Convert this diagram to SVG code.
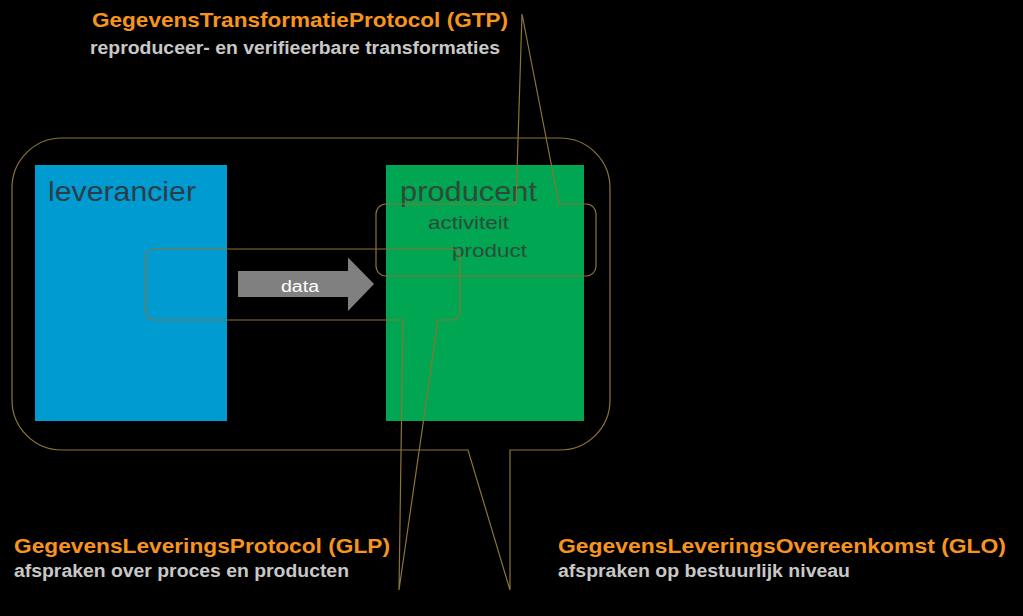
<svg xmlns="http://www.w3.org/2000/svg" width="1023" height="616" viewBox="0 0 1023 616">
  <style>
    .callout { fill: none; stroke: #8c7434; stroke-width: 1.2; stroke-linejoin: miter; }
    .title { font-family: "Liberation Sans", Arial, sans-serif; font-weight: bold; font-size: 20.5px; fill: #f7941e; }
    .sub { font-family: "Liberation Sans", Arial, sans-serif; font-weight: bold; font-size: 18px; fill: #c8c8c8; }
    .boxlabel { font-family: "Liberation Sans", Arial, sans-serif; }
  </style>
  <rect width="1023" height="616" fill="#000000"/>

  <g id="leverancier">
    <rect x="35" y="165" width="192" height="256" fill="#009bd0"/>
    <text class="boxlabel" x="48" y="200.5" font-size="28" fill="#2b3d48" textLength="148" lengthAdjust="spacingAndGlyphs">leverancier</text>
  </g>

  <g id="producent">
    <rect x="386" y="165" width="198" height="256" fill="#00a651"/>
    <text class="boxlabel" x="400" y="200.5" font-size="28" fill="#2f4a3a" textLength="137" lengthAdjust="spacingAndGlyphs">producent</text>
    <text class="boxlabel" x="428" y="229" font-size="19" fill="#2f4a3a" textLength="81" lengthAdjust="spacingAndGlyphs">activiteit</text>
    <text class="boxlabel" x="452" y="257" font-size="19" fill="#2f4a3a" textLength="75" lengthAdjust="spacingAndGlyphs">product</text>
  </g>

  <g id="connectors">
    <g id="data-arrow">
      <polygon points="238,271 348,271 348,257.5 374,284 348,311 348,297 238,297" fill="#808080"/>
      <text class="boxlabel" x="281" y="292" font-size="16" fill="#ffffff" textLength="38" lengthAdjust="spacingAndGlyphs">data</text>
    </g>
  </g>

  <g id="GLO">
    <path class="callout" d="M 62,138 H 560 A 50 50 0 0 1 610,188 V 400 A 50 50 0 0 1 560,450 H 510 V 590 L 468,450 H 62 A 50 50 0 0 1 12,400 V 188 A 50 50 0 0 1 62,138 Z"/>
    <text class="title" x="558" y="553" textLength="448" lengthAdjust="spacingAndGlyphs">GegevensLeveringsOvereenkomst  (GLO)</text>
    <text class="sub" x="558" y="577" textLength="292" lengthAdjust="spacingAndGlyphs">afspraken op bestuurlijk niveau</text>
  </g>

  <g id="GLP">
    <path class="callout" d="M 154,249 H 452 A 8 8 0 0 1 460,257 V 312 A 8 8 0 0 1 452,320 H 438 L 399,590 L 403,320 H 154 A 8 8 0 0 1 146,312 V 257 A 8 8 0 0 1 154,249 Z"/>
    <text class="title" x="14" y="553" textLength="376" lengthAdjust="spacingAndGlyphs">GegevensLeveringsProtocol (GLP)</text>
    <text class="sub" x="14" y="577" textLength="335" lengthAdjust="spacingAndGlyphs">afspraken over proces en producten</text>
  </g>

  <g id="GTP">
    <path class="callout" d="M 386,204 H 516 L 522,14 L 559,204 H 586 A 10 10 0 0 1 596,214 V 266 A 10 10 0 0 1 586,276 H 386 A 10 10 0 0 1 376,266 V 214 A 10 10 0 0 1 386,204 Z"/>
    <text class="title" x="92" y="27" textLength="416" lengthAdjust="spacingAndGlyphs">GegevensTransformatieProtocol (GTP)</text>
    <text class="sub" x="90" y="53.5" textLength="410" lengthAdjust="spacingAndGlyphs">reproduceer- en verifieerbare transformaties</text>
  </g>
</svg>
